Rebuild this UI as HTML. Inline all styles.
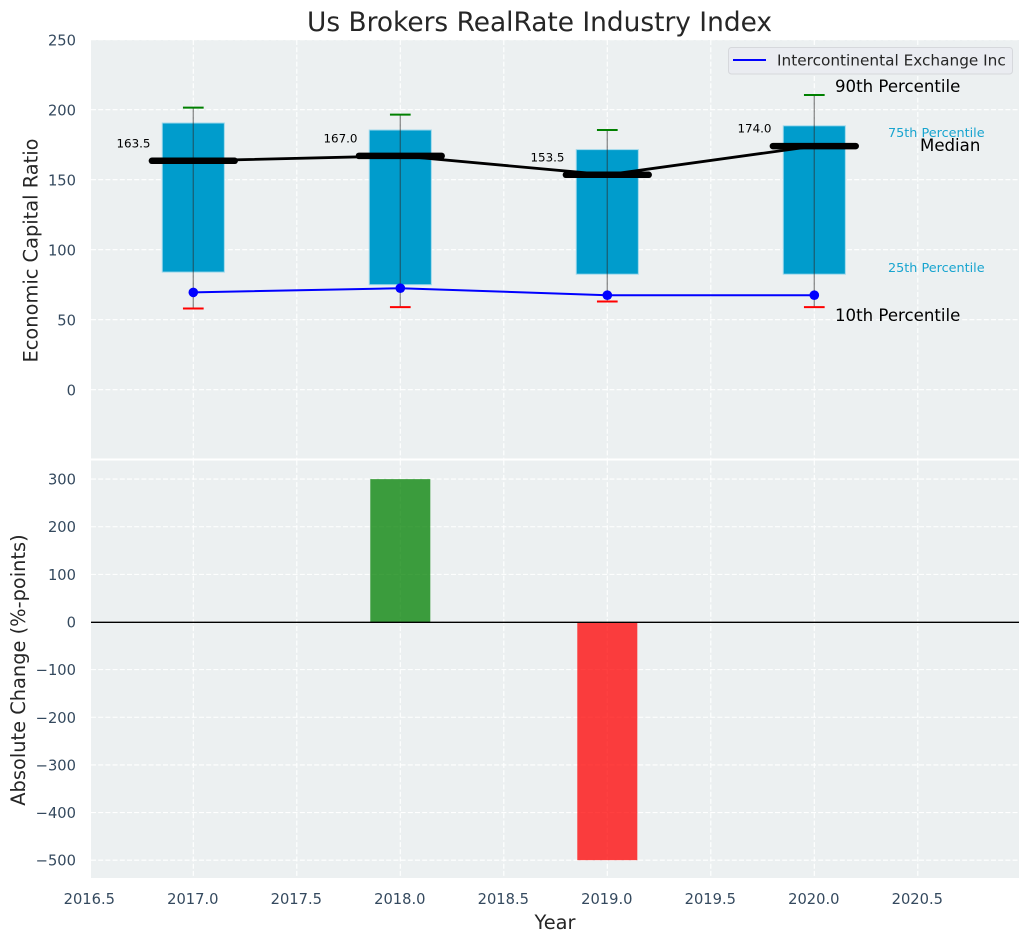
<!DOCTYPE html>
<html lang="en">
<head>
<meta charset="utf-8">
<title>Us Brokers RealRate Industry Index</title>
<style>
html,body{margin:0;padding:0;background:#fff;width:1029px;height:942px;overflow:hidden}
svg{display:block}
text{font-family:"DejaVu Sans","Liberation Sans",sans-serif}
.tick{font-size:14.7px;fill:#34495e}
</style>
</head>
<body>
<svg id="chart" xmlns="http://www.w3.org/2000/svg" width="1029" height="942" viewBox="0 0 1029 942"></svg>
<script>
const years = [2017, 2018, 2019, 2020];
const p90 = [201.5, 196.5, 185.5, 210.5];
const p75 = [190.5, 185.5, 171.5, 188.5];
const medians = [163.5, 167.0, 153.5, 174.0];
const p25 = [84, 75, 82.5, 82.5];
const p10 = [58, 59, 63, 59];
const company = [69.5, 72.5, 67.5, 67.5];
const changes = [0, 300, -500, 0];
const xTicks = [2016.5, 2017, 2017.5, 2018, 2018.5, 2019, 2019.5, 2020, 2020.5];
const topTicks = [0, 50, 100, 150, 200, 250];
const bottomTicks = [-500, -400, -300, -200, -100, 0, 100, 200, 300];

const NS = 'http://www.w3.org/2000/svg';
const svg = document.getElementById('chart');
const L = 91, R = 1019;
const xs = v => 193.3 + (v - 2017) * 207;
const yTop = v => 389.7 - v * 1.4;
const yBot = v => 622 - v * 0.4763;

function mk(tag, attrs, parent) {
  const el = document.createElementNS(NS, tag);
  for (const k in attrs) el.setAttribute(k, attrs[k]);
  (parent || svg).appendChild(el);
  return el;
}
function txt(str, attrs) {
  const el = mk('text', attrs);
  el.textContent = str;
  return el;
}
let el;

el = mk('rect', {x: L, y: 40, width: R - L, height: 418.5, fill: '#ecf0f1'});


el = mk('rect', {x: L, y: 460.5, width: R - L, height: 417.5, fill: '#ecf0f1'});



/* grid */
xTicks.forEach(t => {
  if (xs(t) < L) return;
  el = mk('line', {x1: xs(t), x2: xs(t), y1: 40, y2: 458.5, stroke: '#fff', 'stroke-width': 1.1, 'stroke-dasharray': '5 2.2'});
  
  
  el = mk('line', {x1: xs(t), x2: xs(t), y1: 460.5, y2: 878, stroke: '#fff', 'stroke-width': 1.1, 'stroke-dasharray': '5 2.2'});
  
  
});
topTicks.forEach(t => {
  el = mk('line', {x1: L, x2: R, y1: yTop(t), y2: yTop(t), stroke: '#fff', 'stroke-width': 1.1, 'stroke-dasharray': '5 2.2'});
  
  
  el = txt(String(t), {x: 76, y: yTop(t) + 6, 'text-anchor': 'end', class: 'tick'});
  
  
});
bottomTicks.forEach(t => {
  el = mk('line', {x1: L, x2: R, y1: yBot(t), y2: yBot(t), stroke: '#fff', 'stroke-width': 1.1, 'stroke-dasharray': '5 2.2'});
  
  
  el = txt(String(t).replace('-', '\u2212'), {x: 76, y: yBot(t) + 5.5, 'text-anchor': 'end', class: 'tick'});
  
  
});
xTicks.forEach(t => {
  el = txt(t.toFixed(1), {x: xs(t) - 0.5, y: 904, 'text-anchor': 'middle', class: 'tick'});
  
  
});

/* boxes */
years.forEach((yr, i) => {
  const bx = xs(yr - 0.15), bw = xs(yr + 0.15) - bx;
  el = mk('rect', {x: bx, y: yTop(p75[i]), width: bw, height: yTop(p25[i]) - yTop(p75[i]), fill: '#009ccc', stroke: '#9fd9ec', 'stroke-width': 1});
  
  
});

/* median line */
el = mk('polyline', {points: years.map((yr, i) => xs(yr) + ',' + yTop(medians[i])).join(' '), fill: 'none', stroke: '#000', 'stroke-width': 2.8});



/* whiskers, medians, labels */
years.forEach((yr, i) => {
  el = mk('line', {x1: xs(yr), x2: xs(yr), y1: yTop(p90[i]), y2: yTop(p10[i]), stroke: '#2c2c2c', 'stroke-opacity': 0.5, 'stroke-width': 1.4});
  
  
  el = mk('line', {x1: xs(yr - 0.05), x2: xs(yr + 0.05), y1: yTop(p90[i]), y2: yTop(p90[i]), stroke: '#008000', 'stroke-width': 2});
  
  
  el = mk('line', {x1: xs(yr - 0.05), x2: xs(yr + 0.05), y1: yTop(p10[i]), y2: yTop(p10[i]), stroke: '#ff0000', 'stroke-width': 2});
  
  
  el = mk('line', {x1: xs(yr - 0.2), x2: xs(yr + 0.2), y1: yTop(medians[i]), y2: yTop(medians[i]), stroke: '#000', 'stroke-width': 6.5, 'stroke-linecap': 'round'});
  
  
  el = txt(medians[i].toFixed(1), {x: xs(yr) - 42.8, y: yTop(medians[i]) - 13.5, 'text-anchor': 'end', 'font-size': 11.9, fill: '#000'});
  
  
});

/* company line */
el = mk('polyline', {points: years.map((yr, i) => xs(yr) + ',' + yTop(company[i])).join(' '), fill: 'none', stroke: '#0000ff', 'stroke-width': 2});


years.forEach((yr, i) => {
  el = mk('circle', {cx: xs(yr), cy: yTop(company[i]), r: 4.8, fill: '#0000ff'});
  
  
});

/* percentile annotations */
el = txt('90th Percentile', {x: 835, y: 92, 'font-size': 16.6, fill: '#000'});


el = txt('75th Percentile', {x: 888, y: 137, 'font-size': 12.8, fill: '#009ccc', opacity: 0.9});


el = txt('Median', {x: 920, y: 151, 'font-size': 16.6, fill: '#000'});


el = txt('25th Percentile', {x: 888, y: 272, 'font-size': 12.8, fill: '#009ccc', opacity: 0.9});


el = txt('10th Percentile', {x: 835, y: 321, 'font-size': 16.6, fill: '#000'});



/* legend */
el = mk('rect', {x: 728.5, y: 47.5, width: 284, height: 26.5, rx: 3, fill: '#eaecf1', stroke: '#d6d8dc', 'stroke-width': 1});


el = mk('line', {x1: 733, x2: 766, y1: 60, y2: 60, stroke: '#0000ff', 'stroke-width': 2});


el = txt('Intercontinental Exchange Inc', {x: 777, y: 65.5, 'font-size': 15.3, fill: '#262626'});



/* change bars */
years.forEach((yr, i) => {
  if (changes[i] === 0) return;
  const bx = xs(yr - 0.145), bw = xs(yr + 0.145) - bx;
  const y0 = Math.min(yBot(0), yBot(changes[i]));
  const h = Math.abs(yBot(changes[i]) - yBot(0));
  el = mk('rect', {x: bx, y: y0, width: bw, height: h, fill: changes[i] > 0 ? '#008000' : '#ff0000', 'fill-opacity': 0.75});
  
  
});
el = mk('line', {x1: L, x2: R, y1: yBot(0) + 0.3, y2: yBot(0) + 0.3, stroke: '#000', 'stroke-width': 1.4});



/* titles */
el = txt('Us Brokers RealRate Industry Index', {x: 539.5, y: 31, 'text-anchor': 'middle', 'font-size': 26.4, fill: '#262626'});


el = txt('Year', {x: 555, y: 929, 'text-anchor': 'middle', 'font-size': 19.4, fill: '#262626'});


el = txt('Economic Capital Ratio', {x: 0, y: 0, transform: 'translate(37.5,250.5) rotate(-90)', 'text-anchor': 'middle', 'font-size': 19.4, fill: '#262626'});


el = txt('Absolute Change (%-points)', {x: 0, y: 0, transform: 'translate(25,670) rotate(-90)', 'text-anchor': 'middle', 'font-size': 19.4, fill: '#262626'});


</script>
</body>
</html>
